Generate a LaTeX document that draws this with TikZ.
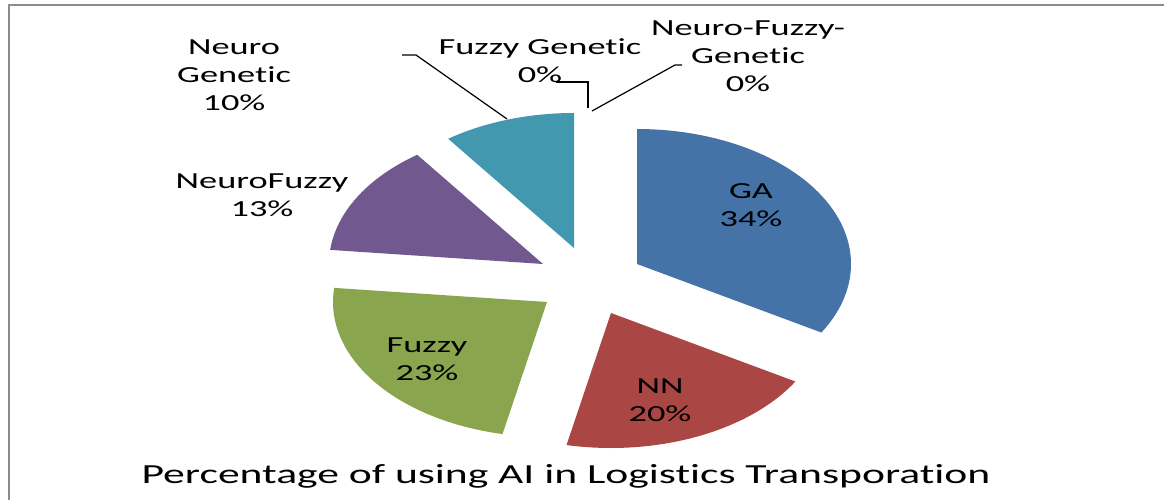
\documentclass[tikz,border=0pt]{standalone}
\usepackage{fontspec}
\setmainfont{Carlito}[Ligatures=NoCommon]
\definecolor{gaBlue}{HTML}{4572A7}
\definecolor{nnRed}{HTML}{AA4643}
\definecolor{fzGreen}{HTML}{89A54E}
\definecolor{nfPurple}{HTML}{71588F}
\definecolor{ngTeal}{HTML}{4198AF}
\definecolor{frameGray}{HTML}{8C8C8C}
% one exploded slice of the elliptical pie: apex x, apex y, start, end (clockwise from top), colour
\newcommand\pieslice[5]{%
  \fill[#5] (#1,#2) -- plot[domain=#3:#4, samples=90] ({#1+214*sin(\x)},{#2-135*cos(\x)}) -- cycle;}
\tikzset{
  lbl/.style={font=\fontsize{23}{28}\selectfont, align=center, xscale=1.58, inner sep=0pt},
  ttl/.style={font=\fontsize{27.6}{33}\selectfont, xscale=1.58, inner sep=0pt},
  leader/.style={draw=black, line width=1.2pt},
  chartframe/.style={draw=frameGray, line width=2pt}
}
\begin{document}
\begin{tikzpicture}[x=1pt,y=-1pt]
\useasboundingbox (0,0) rectangle (1164,500);
\fill[white] (0,0) rectangle (1164,500);
\draw[chartframe] (8.5,500) -- (8.5,5.5) -- (1164,5.5);

% slices
\pieslice{637}{264}{0}{120.5}{gaBlue}
\pieslice{611}{313}{120.5}{192}{nnRed}
\pieslice{547}{302}{192}{276}{fzGreen}
\pieslice{543}{264}{276}{324}{nfPurple}
\pieslice{574}{248}{324}{360}{ngTeal}

% labels inside slices
\node[lbl] (ga) at (751,205) {GA\\34\%};
\node[lbl] (nn) at (660,400) {NN\\20\%};
\node[lbl] (fz) at (427,359) {Fuzzy\\23\%};
% labels outside
\node[lbl] (nf) at (262,195) {NeuroFuzzy\\13\%};
\node[lbl] (ng) at (234,75) {Neuro\\Genetic\\10\%};
\node[lbl] (fg) at (540,61) {Fuzzy Genetic\\0\%};
\node[lbl] (nfg) at (748,56) {Neuro-Fuzzy-\\Genetic\\0\%};

% leader lines
\coordinate (ngA) at (402,55);
\coordinate (ngP) at (507,119);
\coordinate (fgA) at (556,82);
\coordinate (fgP) at (588,108);
\coordinate (nfgA) at (682,65);
\coordinate (nfgP) at (592,111);
\draw[leader] (ngA) -- ++(14,0) -- (ngP);
\draw[leader] (fgA) -| (fgP);
\draw[leader] (nfgA) -- ++(-7,0) -- (nfgP);

% title
\node[ttl, anchor=base] (title) at (566,483) {Percentage of using AI in Logistics Transporation};
\end{tikzpicture}
\end{document}
